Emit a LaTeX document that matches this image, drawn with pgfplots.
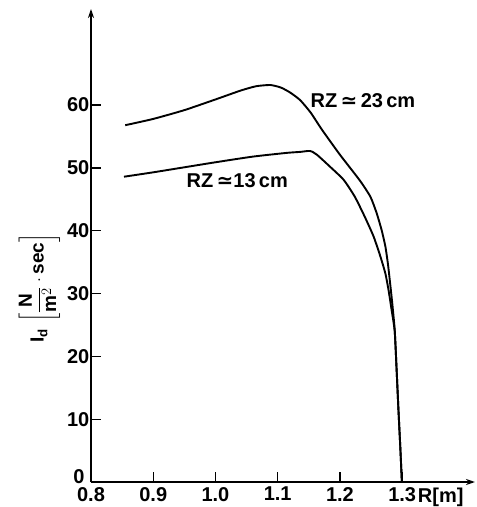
\documentclass[border=0pt]{standalone}
\usepackage{fontspec}
\setmainfont{Liberation Sans}
\newfontfamily\symfont{DejaVu Sans}
\usepackage{amsmath}
\usepackage{pgfplots}
\pgfplotsset{compat=1.18}
\usetikzlibrary{arrows.meta}

\pgfplotstableread{
x y
0.855 56.8
0.900 57.8
0.950 59.2
1.000 60.9
1.040 62.3
1.065 63.0
1.088 63.2
1.105 62.8
1.120 62.0
1.136 60.8
1.153 58.8
1.171 56.1
1.200 52.1
1.232 48.0
1.249 45.4
1.259 42.8
1.267 40.1
1.273 37.5
1.277 34.8
1.280 32.2
1.284 28.5
1.288 24.2
1.291 18.0
1.294 11.5
1.297 5.5
1.2995 0.0
}\upperdata

\pgfplotstableread{
x y
0.853 48.6
0.900 49.3
0.950 50.1
1.000 50.9
1.060 51.8
1.115 52.4
1.136 52.55
1.152 52.7
1.163 52.1
1.184 50.2
1.206 48.1
1.224 45.4
1.240 42.2
1.254 39.1
1.265 35.9
1.273 33.2
1.278 30.6
1.283 27.4
1.288 24.0
1.291 18.0
1.294 11.5
1.297 5.5
1.2995 0.0
}\lowerdata

\newcommand{\lf}{\fontsize{20}{22}\selectfont\bfseries}
\newcommand{\appr}{{\symfont\bfseries ≃}}

\begin{document}
\begin{tikzpicture}
\begin{axis}[
  name=ax,
  scale only axis,
  width=384pt, height=473pt,
  xmin=0.8, xmax=1.417, ymin=0, ymax=75.3,
  axis lines=left,
  axis line style={line width=1.4pt, -{Stealth[length=9pt,width=6pt]}},
  xtick={0.8,0.9,1.0,1.1,1.2,1.3},
  ytick={10,20,30,40,50,60},
  tick align=inside,
  major tick length=10pt,
  tick style={line width=1.3pt, black},
  tick label style={font=\lf},
  xticklabel style={inner sep=1pt, yshift=-4pt, /pgf/number format/.cd, fixed, fixed zerofill, precision=1, assume math mode=true},
  yticklabel style={inner sep=1.5pt, /pgf/number format/assume math mode=true},
  clip=false,
]
\addplot[black, line width=1.9pt, smooth, tension=0.35] table[x=x, y=y] {\upperdata};
\addplot[black, line width=1.9pt, smooth, tension=0.35] table[x=x, y=y] {\lowerdata};
\node[font=\lf] at (axis cs:1.237,60.7) {RZ\,\appr\,23\,cm};
\node[font=\lf] at (axis cs:1.035,47.9) {RZ\,\appr13\,cm};
\node[font=\lf, anchor=south east, inner sep=0pt] at (axis cs:0.79,-0.3) {0};
\node[font=\lf, anchor=north west, inner sep=0pt] at (axis cs:1.325,-0.9) {R[m]};
\node[font=\fontsize{19}{21}\selectfont\bfseries, rotate=90, inner sep=0pt] at (axis cs:0.717,30.9)
  {I$_{\text{d}}\,\left[\dfrac{\text{N}}{\text{m}^{2}}\cdot\text{sec}\right]$};
\end{axis}
\pgfresetboundingbox
\path[use as bounding box] ([shift={(-91pt,-25pt)}]ax.south west) rectangle ([shift={(2pt,9pt)}]ax.north east);
\end{tikzpicture}
\end{document}
